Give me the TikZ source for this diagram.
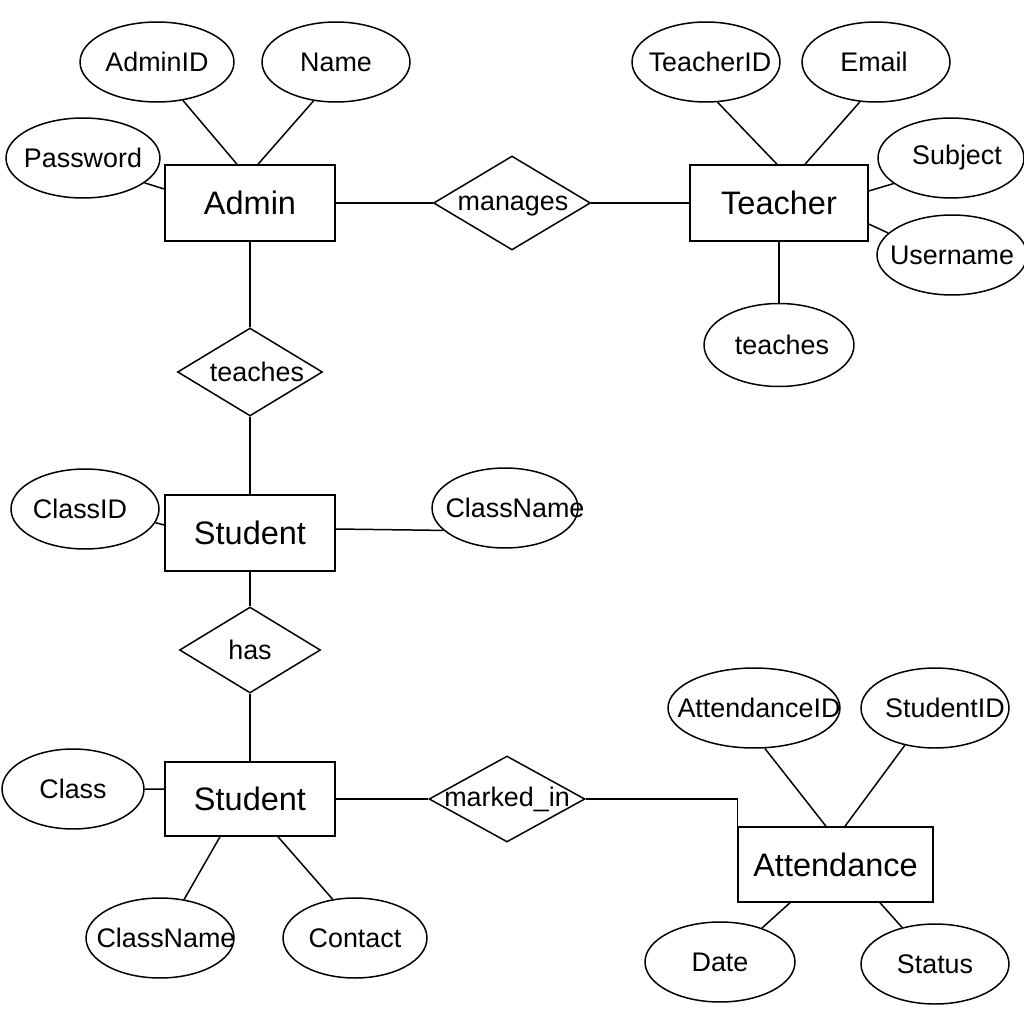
\documentclass[tikz,border=0pt]{standalone}
\usepackage{fontspec}
\setmainfont{Liberation Sans}
\usetikzlibrary{shapes.geometric}
\newcommand\Lbl[2][0pt]{\makebox[0pt]{\hspace*{#1}#2}}
\begin{document}
\begin{tikzpicture}[x=0.02cm,y=-0.02cm,line width=0.85pt,
  entity/.style={draw,rectangle,minimum width=3.4cm,minimum height=1.52cm,inner sep=0pt,font=\fontsize{18.5}{20}\selectfont},
  attr/.style={draw,ellipse,minimum height=1.6cm,inner sep=0pt,font=\fontsize{15.3}{17}\selectfont},
  rel/.style={draw,diamond,inner sep=0pt,font=\fontsize{15.3}{17}\selectfont}]
\useasboundingbox (0,0) rectangle (1024,1024);
% entities
\node[entity] (Admin) at (250,203) {Admin};
\node[entity,minimum width=3.56cm] (Teacher) at (779,203) {Teacher};
\node[entity] (Student1) at (250,533) {Student};
\node[entity,minimum height=1.48cm] (Student2) at (250,799) {Student};
\node[entity,minimum width=3.9cm,minimum height=1.5cm] (Attendance) at (835.5,864.5) {Attendance};
% relationships
\node[rel,minimum width=3.14cm,minimum height=1.88cm,text depth=0pt] (manages) at (512,203) {\Lbl[0.04cm]{manages}};
\node[rel,minimum width=2.9cm,minimum height=1.76cm] (teachesD) at (250,372) {\Lbl[0.28cm]{teaches}};
\node[rel,minimum width=2.82cm,minimum height=1.72cm] (has) at (250,650) {\Lbl{has}};
\node[rel,minimum width=3.12cm,minimum height=1.72cm] (markedin) at (507,799) {\Lbl{marked\_in}};
% attributes
\node[attr,minimum width=3.08cm] (AdminID) at (157,62) {\Lbl{AdminID}};
\node[attr,minimum width=2.96cm] (Name) at (336,62) {\Lbl{Name}};
\node[attr,minimum width=3.08cm] (Password) at (83,158) {\Lbl{Password}};
\node[attr,minimum width=2.96cm] (TeacherID) at (706,62) {\Lbl[0.16cm]{TeacherID}};
\node[attr,minimum width=2.96cm] (Email) at (876,62) {\Lbl[-0.08cm]{Email}};
\node[attr,minimum width=2.92cm] (Subject) at (951,158) {\Lbl[0.24cm]{Subject}};
\node[attr,minimum width=3.0cm] (Username) at (952,255) {\Lbl{Username}};
\node[attr,minimum width=3.0cm,minimum height=1.66cm] (teachesE) at (779,345) {\Lbl[0.12cm]{teaches}};
\node[attr,minimum width=2.96cm] (ClassID) at (85,509) {\Lbl[-0.2cm]{ClassID}};
\node[attr,minimum width=2.92cm] (ClassName1) at (505,508) {\Lbl[0.4cm]{ClassName}};
\node[attr,minimum width=2.84cm] (Class) at (73,789) {\Lbl{Class}};
\node[attr,minimum width=2.96cm] (ClassName2) at (160,938) {\Lbl[0.24cm]{ClassName}};
\node[attr,minimum width=2.88cm] (Contact) at (355,938) {\Lbl{Contact}};
\node[attr,minimum width=3.44cm] (AttendanceID) at (754,708) {\Lbl[0.2cm]{AttendanceID}};
\node[attr,minimum width=2.96cm] (StudentID) at (935,708) {\Lbl[0.4cm]{StudentID}};
\node[attr,minimum width=3.0cm] (Date) at (720,962) {\Lbl{Date}};
\node[attr,minimum width=2.96cm] (Status) at (935,964) {\Lbl{Status}};
% connectors
\draw (AdminID.-56) -- ([xshift=-0.26cm]Admin.north);
\draw (Name.-120) -- ([xshift=0.16cm]Admin.north);
\draw (Password.-22) -- ([yshift=0.28cm]Admin.west);
\draw (Admin.east) -- (manages.west);
\draw (manages.east) -- (Teacher.west);
\draw (TeacherID.-74) -- ([xshift=-0.04cm]Teacher.north);
\draw (Email.-112) -- ([xshift=0.52cm]Teacher.north);
\draw (Subject.-156) -- ([yshift=0.24cm]Teacher.east);
\draw (Username.161) -- ([yshift=-0.42cm]Teacher.east);
\draw (Teacher.south) -- (teachesE.north);
\draw (Admin.south) -- (teachesD.north);
\draw (teachesD.south) -- (Student1.north);
\draw (ClassID.-11) -- ([yshift=0.16cm]Student1.west);
\draw ([yshift=0.08cm]Student1.east) -- (ClassName1.-160);
\draw (Student1.south) -- (has.north);
\draw (has.south) -- (Student2.north);
\draw (Class.east) -- ([yshift=0.2cm]Student2.west);
\draw (ClassName2.58) -- ([xshift=-0.6cm]Student2.south);
\draw (Contact.120) -- ([xshift=0.56cm]Student2.south);
\draw (Student2.east) -- (markedin.west);
\draw (markedin.east) -| (Attendance.north west);
\draw (AttendanceID.-75) -- ([xshift=-0.19cm]Attendance.north);
\draw (StudentID.-129) -- ([xshift=0.19cm]Attendance.north);
\draw (Date.39) -- ([xshift=-0.91cm]Attendance.south);
\draw (Status.132) -- ([xshift=0.89cm]Attendance.south);
\end{tikzpicture}
\end{document}
